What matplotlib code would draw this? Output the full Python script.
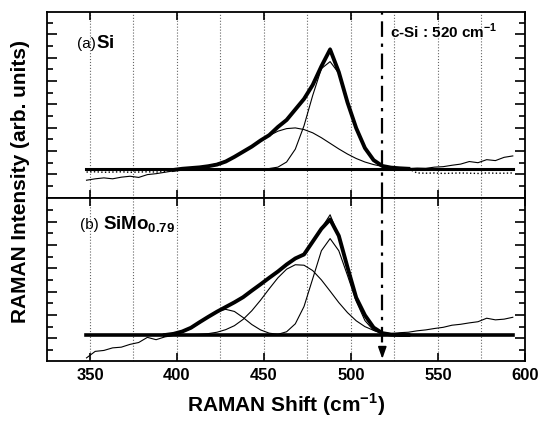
import matplotlib
matplotlib.use("Agg")
import matplotlib.pyplot as plt
import numpy as np
from matplotlib.ticker import FixedLocator, MultipleLocator

plt.rcParams["font.family"] = ["Liberation Sans", "DejaVu Sans"]
plt.rcParams["mathtext.fontset"] = "custom"
plt.rcParams["mathtext.rm"] = "Liberation Sans"
plt.rcParams["mathtext.bf"] = "Liberation Sans:bold"

# Raman shift grid (cm^-1) shared by the measured spectra
shift = np.arange(348, 598, 5)

# (a) Si -- intensities relative to the fitted baseline (arb. units)
raw_a = [-0.48, -0.42, -0.38, -0.42, -0.35, -0.31, -0.36, -0.24, -0.20, -0.14,
         -0.08, -0.02, 0.03, 0.07, 0.12, 0.19, 0.32, 0.52, 0.74, 0.96,
         1.22, 1.45, 1.80, 2.10, 2.55, 3.00, 3.60, 4.40, 5.18, 4.15,
         2.85, 1.75, 0.90, 0.38, 0.15, 0.08, 0.05, 0.02, 0.04, 0.03,
         0.08, 0.10, 0.16, 0.21, 0.32, 0.27, 0.40, 0.36, 0.50, 0.56]
data_a = [-0.13, -0.12, -0.14, -0.13, -0.12, -0.14, -0.13, -0.12, -0.13, -0.11,
          -0.04, 0.01, 0.04, 0.07, 0.12, 0.19, 0.32, 0.52, 0.74, 0.96,
          1.22, 1.45, 1.80, 2.10, 2.55, 3.00, 3.60, 4.40, 5.12, 4.15,
          2.85, 1.75, 0.90, 0.38, 0.13, 0.06, 0.03, 0.01, -0.17, -0.18,
          -0.17, -0.19, -0.18, -0.17, -0.18, -0.19, -0.17, -0.18, -0.18, -0.17]
narrow_a_x = np.arange(453, 528, 5)
narrow_a = [0.02, 0.08, 0.30, 0.85, 1.85, 3.15, 4.30, 4.60, 4.10, 2.80,
            1.70, 0.85, 0.35, 0.10, 0.03]
broad_a_x = np.arange(398, 538, 5)
broad_a = [0.01, 0.02, 0.04, 0.08, 0.14, 0.23, 0.35, 0.52, 0.72, 0.96,
           1.20, 1.43, 1.62, 1.73, 1.76, 1.69, 1.55, 1.34, 1.10, 0.86,
           0.64, 0.45, 0.30, 0.19, 0.11, 0.06, 0.03, 0.01]

# (b) SiMo0.79
raw_b = [-0.98, -0.70, -0.66, -0.55, -0.52, -0.40, -0.32, -0.10, -0.20, -0.08,
         -0.02, 0.13, 0.30, 0.56, 0.76, 1.02, 1.18, 1.42, 1.60, 1.92,
         2.15, 2.47, 2.70, 3.05, 3.26, 3.48, 3.98, 4.57, 5.15, 4.22,
         2.92, 1.58, 0.87, 0.33, 0.10, 0.06, 0.10, 0.12, 0.18, 0.22,
         0.28, 0.33, 0.42, 0.46, 0.52, 0.57, 0.72, 0.65, 0.68, 0.76]
data_b = [0, 0, 0, 0, 0, 0, 0, 0, 0, 0,
          0.05, 0.15, 0.31, 0.55, 0.78, 1.00, 1.20, 1.40, 1.62, 1.90,
          2.17, 2.45, 2.72, 3.02, 3.28, 3.45, 4.00, 4.55, 4.95, 4.25,
          2.90, 1.60, 0.85, 0.32, 0.08, 0.02, 0, 0, 0, 0,
          0, 0, 0, 0, 0, 0, 0, 0, 0, 0]
small_b_x = np.arange(393, 468, 5)
small_b = [0.02, 0.05, 0.13, 0.28, 0.51, 0.78, 1.01, 1.10, 1.01, 0.75,
           0.45, 0.22, 0.08, 0.03, 0.01]
middle_b_x = np.arange(403, 538, 5)
middle_b = [0.00, 0.01, 0.03, 0.06, 0.12, 0.23, 0.40, 0.67, 1.04, 1.49,
            1.98, 2.45, 2.82, 3.01, 2.99, 2.76, 2.36, 1.88, 1.39, 0.96,
            0.61, 0.36, 0.20, 0.10, 0.05, 0.02, 0.01]
narrow_b_x = np.arange(453, 523, 5)
narrow_b = [0.01, 0.03, 0.14, 0.48, 1.22, 2.41, 3.61, 4.13, 3.61, 2.55,
            1.45, 0.62, 0.20, 0.05]

C_SI = 518  # position of the c-Si marker line

fig = plt.figure(figsize=(5.39, 4.21), dpi=100)
ax_a = fig.add_axes([0.0872, 0.5304, 0.8868, 0.4418])
ax_b = fig.add_axes([0.0872, 0.1432, 0.8868, 0.3857])


def style(ax, ylim, tick0):
    ax.set_xlim(325.3, 600)
    ax.set_ylim(*ylim)
    ax.xaxis.set_major_locator(MultipleLocator(50))
    ax.xaxis.set_minor_locator(MultipleLocator(25))
    ax.yaxis.set_major_locator(FixedLocator(np.arange(tick0, ylim[1], 1.0)))
    ax.yaxis.set_minor_locator(FixedLocator(np.arange(tick0 - 0.5, ylim[1], 1.0)))
    ax.set_yticklabels([])
    ax.tick_params(axis="both", which="both", direction="in", top=True, right=True,
                   width=1.2)
    ax.tick_params(axis="x", which="major", length=6, labelsize=12, pad=5)
    ax.tick_params(axis="x", which="minor", length=0)
    ax.tick_params(axis="y", which="major", length=7)
    ax.tick_params(axis="y", which="minor", length=4)
    for lab in ax.get_xticklabels():
        lab.set_fontweight("bold")
    for sp in ax.spines.values():
        sp.set_linewidth(1.3)
    ax.grid(axis="x", which="both", linestyle=":", color="0.4", linewidth=0.8)
    ax.set_axisbelow(True)


style(ax_a, (-1.229, 6.737), -0.23)
style(ax_b, (-1.10, 5.854), -0.14)
ax_a.tick_params(axis="x", labelbottom=False)

dashdot = (0, (7, 3, 1.5, 3))

# ---- panel (a)
mid_a = (shift >= 398) & (shift <= 533)
ax_a.plot(shift, raw_a, color="k", lw=0.8)
ax_a.plot([shift[0], shift[-1]], [0, 0], color="k", lw=2.2)
ax_a.plot(shift[shift <= 398], np.array(data_a)[shift <= 398], color="k", lw=1.0, ls=":")
ax_a.plot(shift[shift >= 533], np.array(data_a)[shift >= 533], color="k", lw=1.0, ls=":")
ax_a.plot(shift[mid_a], np.array(data_a)[mid_a], color="k", lw=2.8)
ax_a.plot(narrow_a_x, narrow_a, color="k", lw=0.8)
ax_a.plot(broad_a_x, broad_a, color="k", lw=0.8)
ax_a.axvline(C_SI, color="k", lw=1.6, ls=dashdot)

ax_a.text(0.7176, 0.857, r"c-Si : 520 cm$^{\mathbf{-1}}$", transform=ax_a.transAxes,
          fontsize=11, fontweight="bold", va="baseline")

# ---- panel (b)
mid_b = (shift >= 393) & (shift <= 533)
ax_b.plot(shift, raw_b, color="k", lw=0.8)
ax_b.plot([shift[0], shift[-1]], [0, 0], color="k", lw=2.6)
ax_b.plot(shift[mid_b], np.array(data_b)[mid_b], color="k", lw=2.8)
ax_b.plot(small_b_x, small_b, color="k", lw=0.8)
ax_b.plot(middle_b_x, middle_b, color="k", lw=0.8)
ax_b.plot(narrow_b_x, narrow_b, color="k", lw=0.8)
ax_b.plot([C_SI, C_SI], [5.854, -0.55], color="k", lw=1.6, ls=dashdot)
ax_b.annotate("", xy=(C_SI, -1.02), xytext=(C_SI, -0.55),
              arrowprops=dict(arrowstyle="-|>,head_length=0.7,head_width=0.25",
                              color="k", lw=1.2, shrinkA=0, shrinkB=0))

# panel labels: "(a)"/"(b)" regular, sample name bold
t_a = ax_a.text(0.0628, 0.805, "(a)", transform=ax_a.transAxes, fontsize=11,
                fontweight="normal", va="baseline")
t_b = ax_b.text(0.069, 0.811, "(b) ", transform=ax_b.transAxes, fontsize=11,
                fontweight="normal", va="baseline")
fig.canvas.draw()
xa = ax_a.transAxes.inverted().transform((t_a.get_window_extent().x1, 0))[0]
xb = ax_b.transAxes.inverted().transform((t_b.get_window_extent().x1, 0))[0]
ax_a.text(xa, 0.805, r"$\mathbf{Si}$", transform=ax_a.transAxes, fontsize=13.5,
          va="baseline")
ax_b.text(xb, 0.811, r"$\mathbf{SiMo_{0.79}}$", transform=ax_b.transAxes,
          fontsize=13.5, va="baseline")

fig.text(0.531, 0.006, r"RAMAN Shift (cm$^{\mathbf{-1}}$)", ha="center", va="bottom",
         fontsize=15, fontweight="bold")
fig.text(0.038, 0.570, "RAMAN Intensity (arb. units)", ha="center", va="center",
         rotation=90, fontsize=15, fontweight="bold")

fig.savefig("out.png", dpi=100)
